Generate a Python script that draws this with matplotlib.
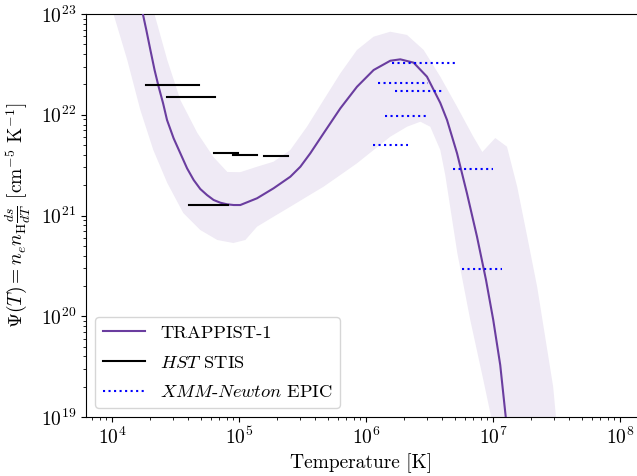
import numpy as np
import matplotlib
matplotlib.use("Agg")
import matplotlib.pyplot as plt

plt.rcParams['font.family'] = 'serif'
plt.rcParams['font.serif'] = ['cmr10']
plt.rcParams['mathtext.fontset'] = 'cm'
plt.rcParams['axes.formatter.use_mathtext'] = True
plt.rcParams['axes.unicode_minus'] = False

# TRAPPIST-1 DEM curve (log10 T, log10 Psi)
curve_logT = [4.236, 4.270, 4.302, 4.335, 4.367, 4.402, 4.433, 4.485, 4.538, 4.591,
              4.643, 4.695, 4.748, 4.800, 4.853, 4.906, 4.958, 5.010, 5.142, 5.272,
              5.404, 5.483, 5.561, 5.666, 5.798, 5.929, 6.060, 6.191, 6.270, 6.375,
              6.480, 6.585, 6.638, 6.717, 6.795, 6.874, 6.945, 7.002, 7.057, 7.097,
              7.105]
curve_logPsi = [23.040, 22.841, 22.643, 22.444, 22.278, 22.114, 21.948, 21.766, 21.617, 21.468,
                21.352, 21.263, 21.203, 21.154, 21.127, 21.111, 21.104, 21.104, 21.171, 21.270,
                21.385, 21.484, 21.617, 21.816, 22.064, 22.278, 22.444, 22.536, 22.550, 22.517,
                22.378, 22.117, 21.948, 21.617, 21.220, 20.790, 20.360, 19.963, 19.516, 19.040,
                18.950]

# Upper edge of the uncertainty band
upper_logT = [4.325, 4.435, 4.538, 4.672, 4.798, 4.908, 5.010, 5.142, 5.272, 5.404,
              5.535, 5.666, 5.798, 5.929, 6.060, 6.191, 6.323, 6.454, 6.585, 6.717,
              6.845, 6.916, 7.018, 7.110, 7.191, 7.270, 7.348, 7.411, 7.474, 7.498]
upper_logPsi = [23.040, 22.543, 22.146, 21.819, 21.581, 21.432, 21.430, 21.484, 21.534, 21.650,
                21.881, 22.146, 22.411, 22.643, 22.775, 22.824, 22.792, 22.643, 22.378, 22.080,
                21.782, 21.630, 21.769, 21.683, 21.283, 20.787, 20.290, 19.794, 19.298, 18.970]

# Lower edge of the uncertainty band
lower_logT = [4.002, 4.120, 4.223, 4.325, 4.435, 4.561, 4.695, 4.829, 4.955, 5.050,
              5.142, 5.272, 5.404, 5.535, 5.666, 5.798, 5.929, 6.060, 6.191, 6.323,
              6.428, 6.506, 6.585, 6.624, 6.719, 6.821, 6.924, 6.979, 6.987]
lower_logPsi = [23.040, 22.543, 22.047, 21.650, 21.323, 21.025, 20.856, 20.757, 20.727, 20.757,
                20.889, 20.988, 21.087, 21.187, 21.286, 21.402, 21.518, 21.650, 21.782, 21.881,
                21.931, 21.881, 21.650, 21.402, 20.628, 19.963, 19.367, 19.040, 18.970]

# HST STIS measurements: (logT_min, logT_max, logPsi)
hst_logT_min = [4.268, 4.435, 4.806, 4.955, 5.197, 4.606]
hst_logT_max = [4.687, 4.811, 4.990, 5.139, 5.388, 4.911]
hst_logPsi = [22.295, 22.179, 21.617, 21.598, 21.588, 21.107]

# XMM-Newton EPIC measurements
xmm_logT_min = [6.202, 6.097, 6.228, 6.150, 6.057, 6.687, 6.758]
xmm_logT_max = [6.701, 6.491, 6.609, 6.490, 6.333, 7.002, 7.068]
xmm_logPsi = [22.510, 22.312, 22.240, 21.990, 21.700, 21.465, 20.470]

fig = plt.figure(figsize=(6.37, 4.76), dpi=100)
ax = fig.add_axes([86/637, 1 - 417/476, 1 - 86/637, (417 - 14)/476])

band_x = np.concatenate([10**np.array(upper_logT), 10**np.array(lower_logT)[::-1]])
band_y = np.concatenate([10**np.array(upper_logPsi), 10**np.array(lower_logPsi)[::-1]])
ax.fill(band_x, band_y, facecolor='#efeaf5', edgecolor='none', zorder=1)

ax.plot(10**np.array(curve_logT), 10**np.array(curve_logPsi), color='#6a3d9f', lw=1.5,
        label='TRAPPIST-1', zorder=3)

for i, (a, b, p) in enumerate(zip(hst_logT_min, hst_logT_max, hst_logPsi)):
    ax.plot([10**a, 10**b], [10**p, 10**p], color='black', lw=1.5, zorder=4,
            label=r'$\mathit{HST}$ STIS' if i == 0 else None)
for i, (a, b, p) in enumerate(zip(xmm_logT_min, xmm_logT_max, xmm_logPsi)):
    ax.plot([10**a, 10**b], [10**p, 10**p], color='blue', lw=1.5, ls=':', zorder=4,
            label=r'$\mathit{XMM}$-$\mathit{Newton}$ EPIC' if i == 0 else None)

ax.set_xscale('log')
ax.set_yscale('log')
ax.set_xlim(10**3.795, 10**8.134)
ax.set_ylim(1e19, 1e23)
ax.spines['right'].set_visible(False)
ax.tick_params(labelsize=14)
ax.set_xlabel('Temperature [K]', fontsize=14)
ax.set_ylabel(r'$\Psi(T) = n_e n_{\rm H}\frac{ds}{dT}$ [cm$^{-5}$ K$^{-1}$]', fontsize=14,
              labelpad=6)
ax.legend(loc='lower left', fontsize=13.3, handlelength=2.3, labelspacing=0.75)

fig.savefig('out.png', dpi=100)
